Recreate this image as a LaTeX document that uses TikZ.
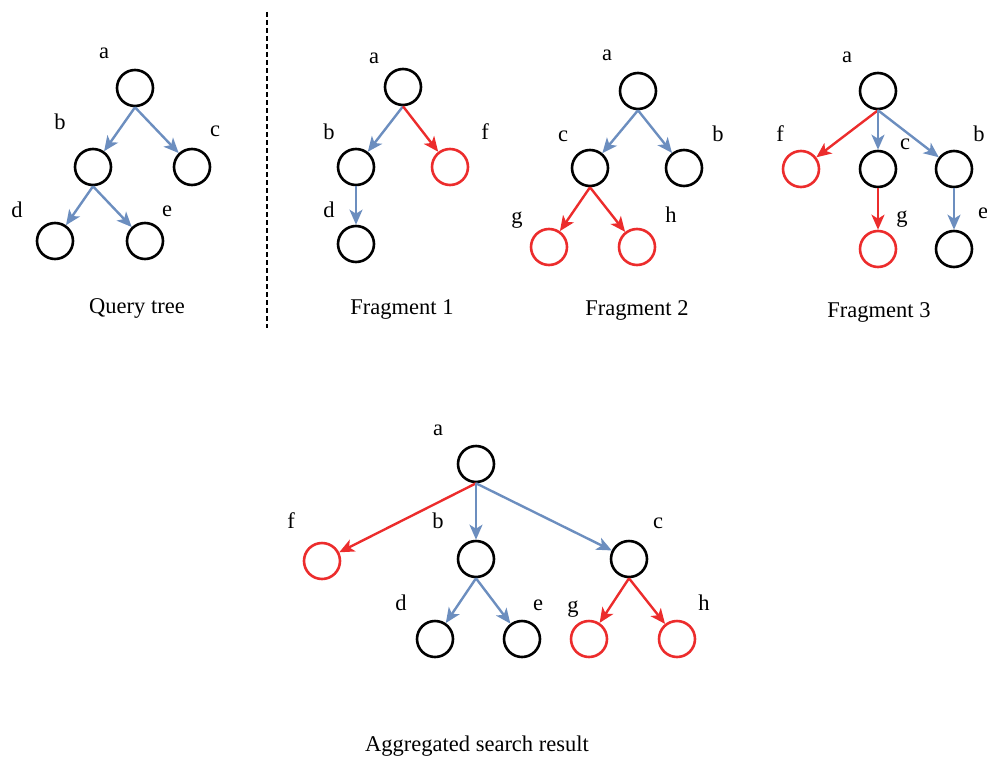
\documentclass[tikz,border=0pt]{standalone}
\usepackage{fontspec}
\setmainfont{Liberation Serif}
\usetikzlibrary{arrows.meta}
\definecolor{eblue}{RGB}{108,142,191}
\definecolor{ered}{RGB}{236,44,44}
\begin{document}
\begin{tikzpicture}[x=1pt,y=-1pt,
  vtx/.style={circle, draw=black, line width=2.6pt, minimum size=36pt, inner sep=0pt},
  rvtx/.style={vtx, draw=ered},
  lbl/.style={inner sep=0pt, font=\fontsize{22.5}{26}\selectfont},
  barr/.style={draw=eblue, line width=2.4pt, -{Stealth[length=15pt,width=13pt,inset=4pt]}},
  rarr/.style={draw=ered, line width=2.4pt, -{Stealth[length=15pt,width=13pt,inset=4pt]}},
  sep/.style={line width=2.8pt, dash pattern=on 5pt off 3pt}]
\useasboundingbox (0,0) rectangle (987,760);

% ---------- Query tree ----------
\node[vtx] (qa) at (135,88) {};
\node[vtx] (qb) at (93,167) {};
\node[vtx] (qc) at (192,167) {};
\node[vtx] (qd) at (55,241) {};
\node[vtx] (qe) at (145,241) {};
\node[lbl] at (104,53) {a};
\node[lbl] at (60,122) {b};
\node[lbl] at (215,131) {c};
\node[lbl] at (17,210) {d};
\node[lbl] at (167,211) {e};
\draw[barr] (qa.south) -- (qb);
\draw[barr] (qa.south) -- (qc);
\draw[barr] (qb.south) -- (qd);
\draw[barr] (qb.south) -- (qe);
\node[lbl] (qt) at (137,308) {Query tree};

% separator
\coordinate (s1) at (267,12);
\coordinate (s2) at (267,328);
\draw[sep] (s1) -- (s2);

% ---------- Fragment 1 ----------
\node[vtx] (fa) at (403,87) {};
\node[vtx] (fb) at (356,167) {};
\node[rvtx] (ff) at (450,167) {};
\node[vtx] (fd) at (356,244) {};
\node[lbl] at (374,58) {a};
\node[lbl] at (329,132) {b};
\node[lbl] at (485,132) {f};
\node[lbl] at (329,210) {d};
\draw[barr] (fa.south) -- (fb);
\draw[rarr] (fa.south) -- (ff);
\draw[barr] (fb.south) -- (fd);
\node[lbl] (ft1) at (402,309) {Fragment 1};

% ---------- Fragment 2 ----------
\node[vtx] (ga) at (638,91) {};
\node[vtx] (gc) at (590,168) {};
\node[vtx] (gb) at (684,168) {};
\node[rvtx] (gg) at (549,247) {};
\node[rvtx] (gh) at (637,247) {};
\node[lbl] at (607,55) {a};
\node[lbl] at (563,136) {c};
\node[lbl] at (718,134) {b};
\node[lbl] at (517,220) {g};
\node[lbl] at (671,215) {h};
\draw[barr] (ga.south) -- (gc);
\draw[barr] (ga.south) -- (gb);
\draw[rarr] (gc.south) -- (gg);
\draw[rarr] (gc.south) -- (gh);
\node[lbl] (ft2) at (637,310) {Fragment 2};

% ---------- Fragment 3 ----------
\node[vtx] (ha) at (878,91) {};
\node[rvtx] (hf) at (801,169) {};
\node[vtx] (hc) at (878,169) {};
\node[vtx] (hb) at (954,169) {};
\node[rvtx] (hg) at (878,249) {};
\node[vtx] (he) at (954,249) {};
\node[lbl] at (847,57) {a};
\node[lbl] at (780,134) {f};
\node[lbl] at (905,144) {c};
\node[lbl] at (979,134) {b};
\node[lbl] at (902,219) {g};
\node[lbl] at (983,213) {e};
\draw[rarr] (ha.south) -- (hf);
\draw[barr] (ha.south) -- (hc);
\draw[barr] (ha.south) -- (hb);
\draw[rarr] (hc.south) -- (hg);
\draw[barr] (hb.south) -- (he);
\node[lbl] (ft3) at (879,312) {Fragment 3};

% ---------- Aggregated ----------
\node[vtx] (ra) at (476,464) {};
\node[rvtx] (rf) at (322,561) {};
\node[vtx] (rb) at (476,559) {};
\node[vtx] (rc) at (629,559) {};
\node[vtx] (rd) at (435,639) {};
\node[vtx] (re) at (522,639) {};
\node[rvtx] (rg) at (589,639) {};
\node[rvtx] (rh) at (677,639) {};
\node[lbl] at (438,430) {a};
\node[lbl] at (291,521) {f};
\node[lbl] at (438,521) {b};
\node[lbl] at (658,523) {c};
\node[lbl] at (401,603) {d};
\node[lbl] at (538,605) {e};
\node[lbl] at (573,609) {g};
\node[lbl] at (704,603) {h};
\draw[rarr] (ra.south) -- (rf);
\draw[barr] (ra.south) -- (rb);
\draw[barr] (ra.south) -- (rc);
\draw[barr] (rb.south) -- (rd);
\draw[barr] (rb.south) -- (re);
\draw[rarr] (rc.south) -- (rg);
\draw[rarr] (rc.south) -- (rh);
\node[lbl] (agg) at (477,746) {Aggregated search result};
\end{tikzpicture}
\end{document}
